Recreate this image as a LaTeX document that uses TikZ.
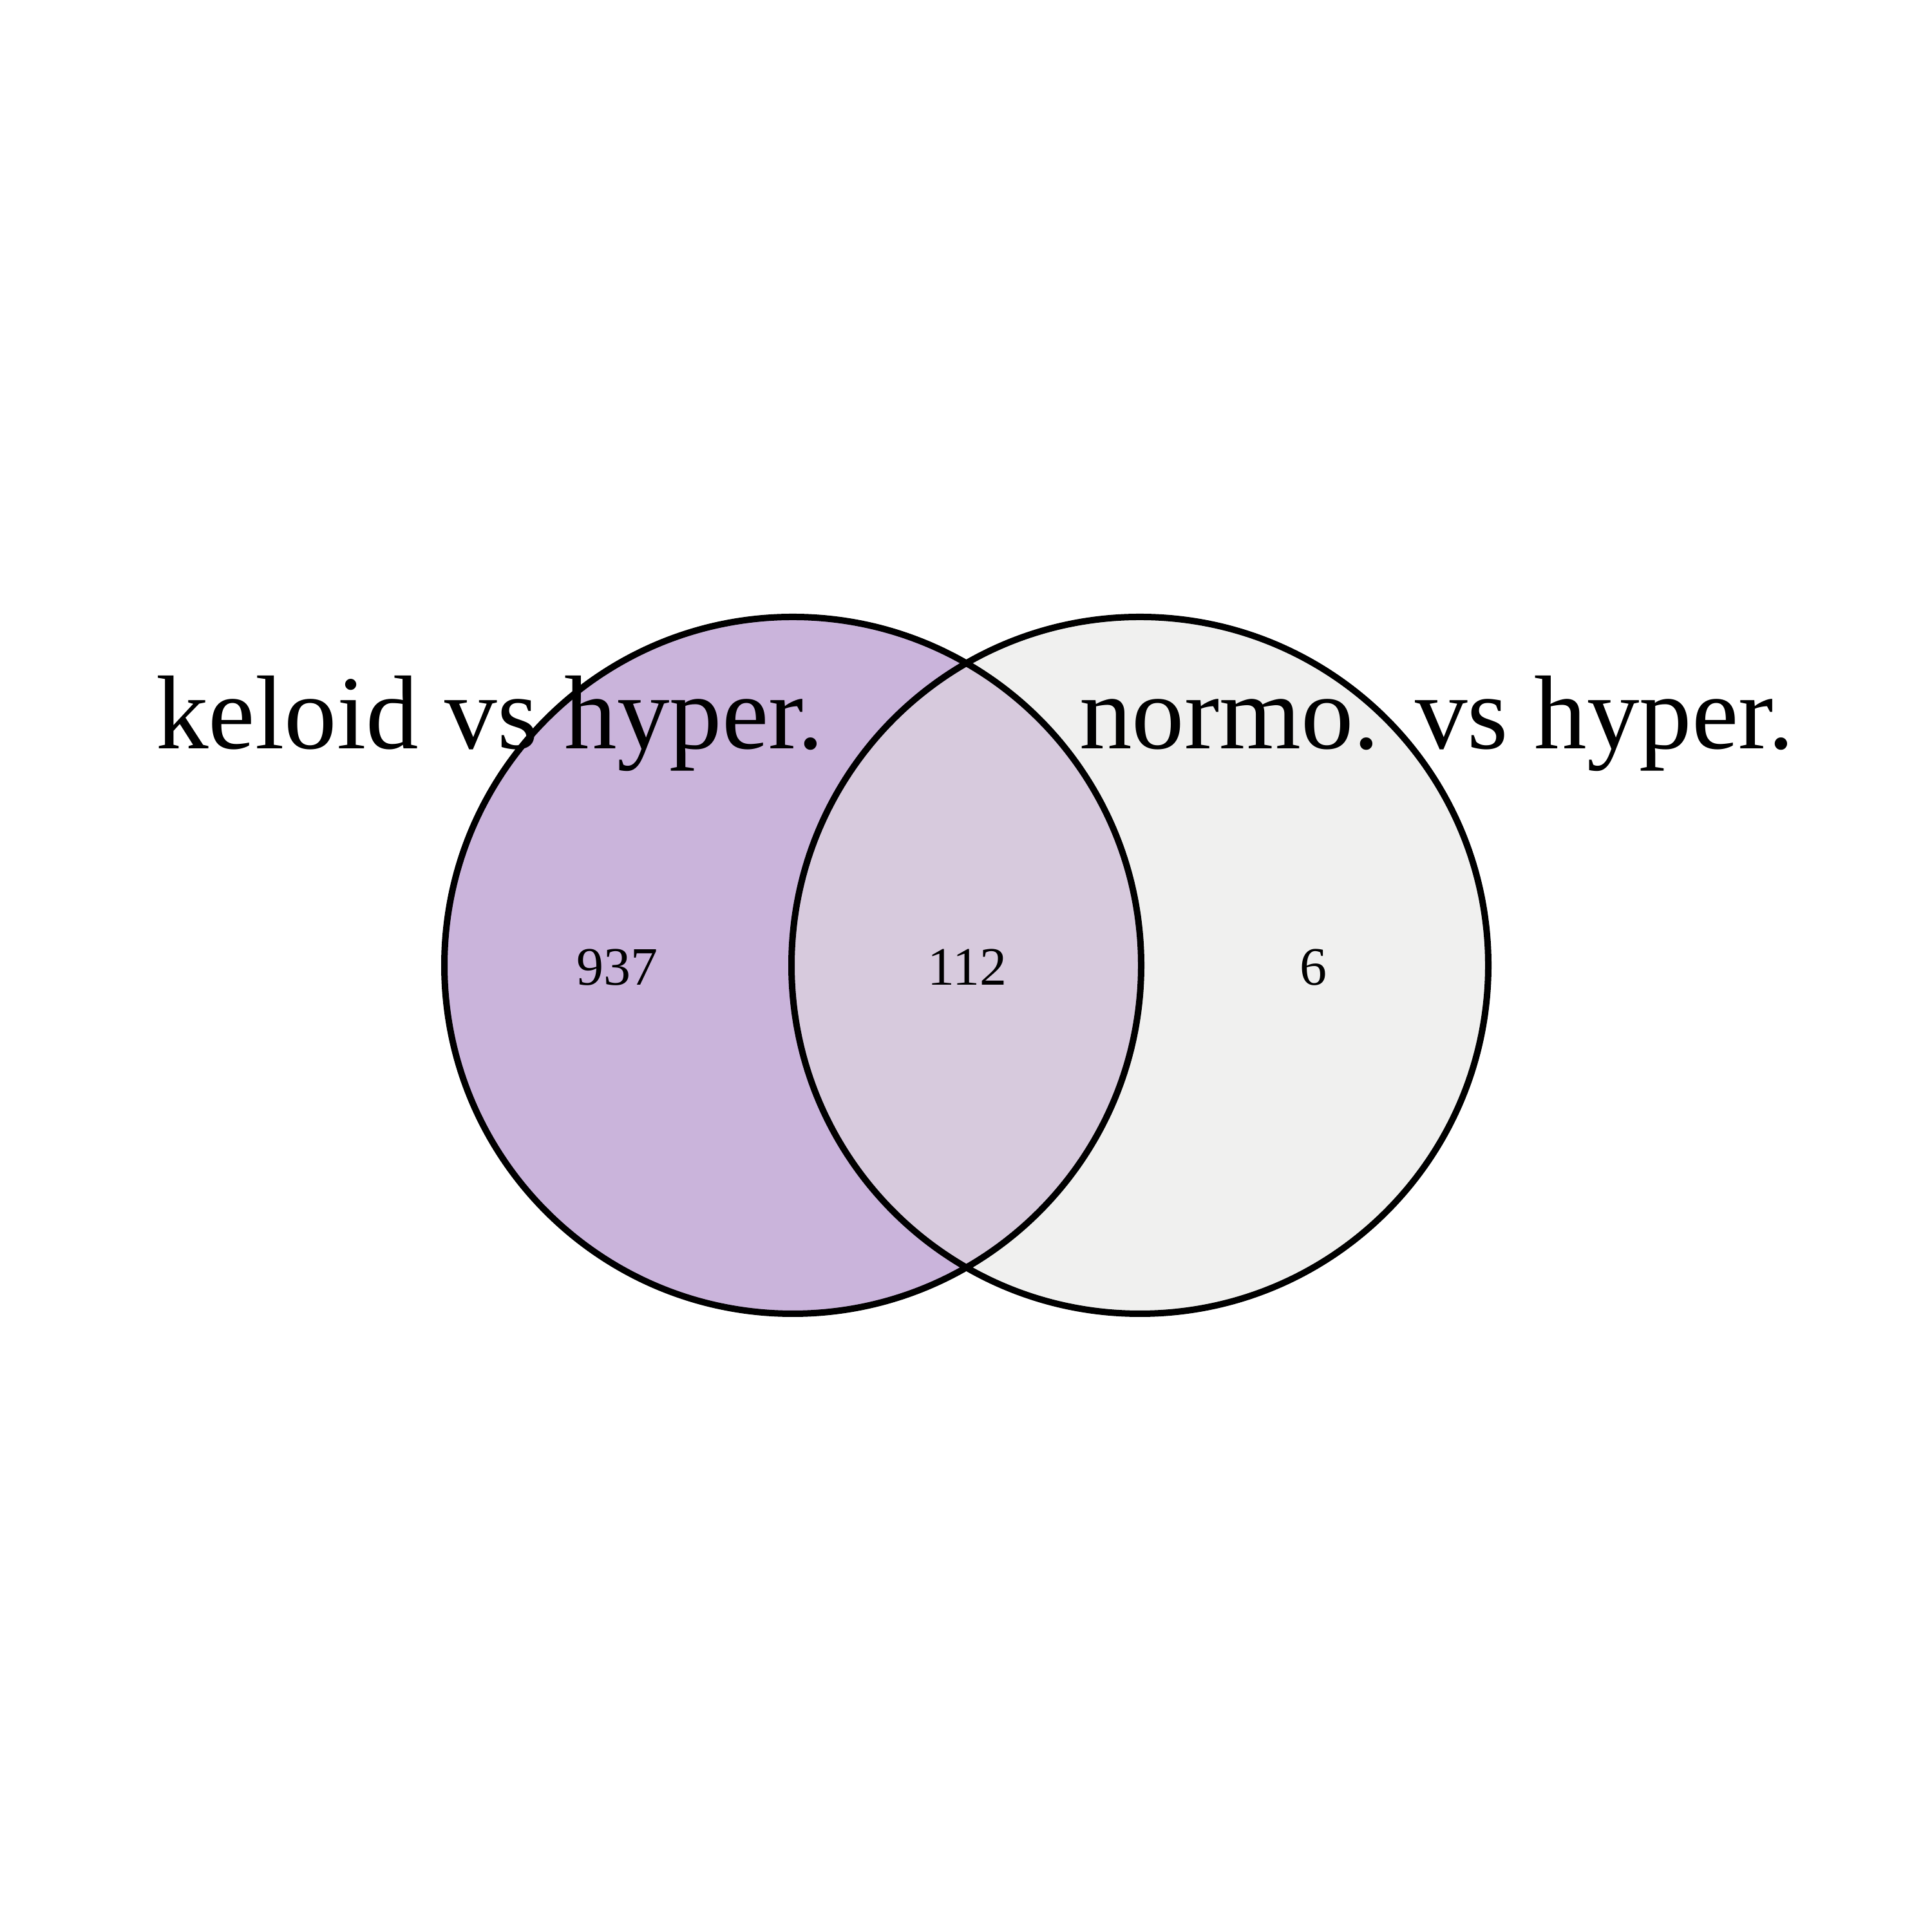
\documentclass[tikz,border=0pt]{standalone}
\usepackage{fontspec}
\setmainfont{Liberation Serif}
\definecolor{setA}{HTML}{CAB4DB}
\definecolor{setB}{HTML}{F0F0EF}
\definecolor{setAB}{HTML}{D7CADD}
\begin{document}
\begin{tikzpicture}[x=1cm,y=1cm,
  ring/.style={line width=1mm, draw=black},
  setname/.style={anchor=base, inner sep=0pt, font=\fontsize{46.4}{50}\selectfont},
  count/.style={anchor=center, inner sep=0pt, font=\fontsize{23.9}{26}\selectfont}]
  \useasboundingbox (0,0) rectangle (30,30);
  \coordinate (cA) at (12.31,15.01);
  \coordinate (cB) at (17.70,15.01);
  \def\rad{5.41}
  % set fills
  \fill[setA] (cA) circle (\rad);
  \fill[setB] (cB) circle (\rad);
  \begin{scope}
    \clip (cA) circle (\rad);
    \fill[setAB] (cB) circle (\rad);
  \end{scope}
  % outlines
  \draw[ring] (cA) circle (\rad);
  \draw[ring] (cB) circle (\rad);
  % set names
  \node[setname] (nA) at (7.61,18.37) {keloid vs hyper.};
  \node[setname] (nB) at (22.31,18.37) {normo. vs hyper.};
  % region counts
  \node[count] (onlyA) at (9.58,14.98) {937};
  \node[count] (both) at (15.02,14.98) {112};
  \node[count] (onlyB) at (20.39,14.98) {6};
\end{tikzpicture}
\end{document}
